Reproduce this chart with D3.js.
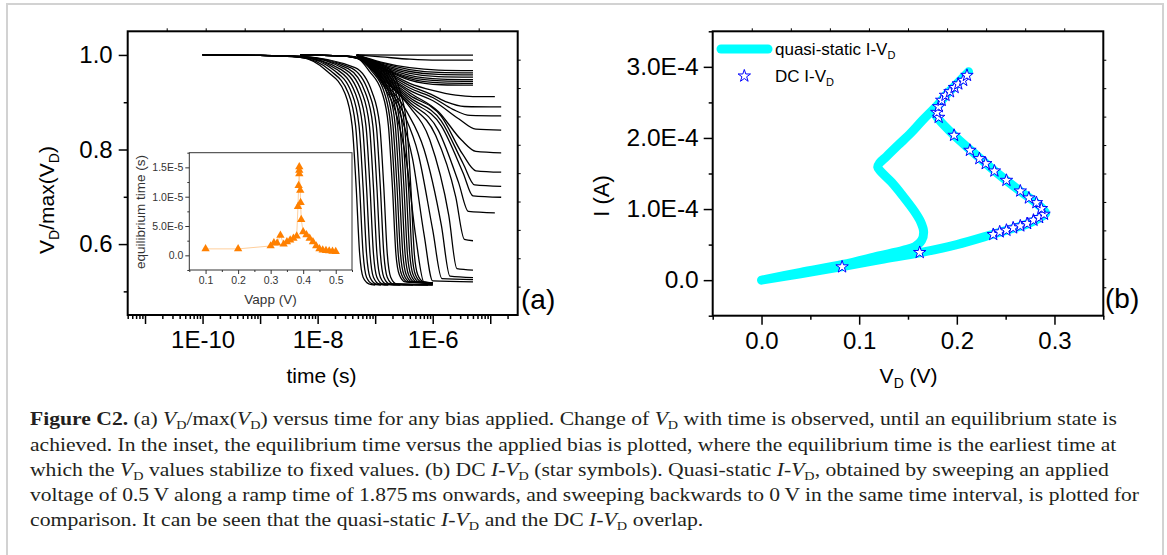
<!DOCTYPE html>
<html>
<head>
<meta charset="utf-8">
<script src="https://cdn.jsdelivr.net/npm/d3@7"></script>
<style>
  body { margin: 0; background: #fff; }
  svg { display: block; }
</style>
</head>
<body>
<script>
// ================= DATA: panel (a) ===================
// every curve is a list of [log10(time / s), VD/max(VD)]
// curves that start at 1E-10 s
const curvesFrom1e10 = [
  [[-10,1],[-9,.999],[-8.3,.995],[-7.83,.965],[-7.53,.92],[-7.4,.85],[-7.33,.72],[-7.27,.58],[-7.21,.53],[-7.11,.516],[-7.0,.513]],
  [[-10,1],[-9,.999],[-8.3,.995],[-7.77,.966],[-7.47,.92],[-7.34,.85],[-7.27,.72],[-7.21,.58],[-7.15,.53],[-7.05,.516],[-6.9,.513]],
  [[-10,1],[-9,.999],[-8.3,.996],[-7.71,.967],[-7.41,.92],[-7.28,.85],[-7.21,.72],[-7.15,.58],[-7.09,.53],[-6.99,.516],[-6.77,.513]],
  [[-10,1],[-9,.999],[-8.3,.996],[-7.65,.968],[-7.35,.92],[-7.22,.85],[-7.15,.72],[-7.09,.58],[-7.03,.53],[-6.93,.516],[-6.56,.513]],
  [[-10,1],[-9,.999],[-8.3,.996],[-7.59,.969],[-7.29,.92],[-7.16,.85],[-7.09,.72],[-7.03,.58],[-6.97,.53],[-6.87,.516],[-6.34,.513]],
  [[-10,1],[-9,.999],[-8.3,.997],[-7.53,.97],[-7.23,.92],[-7.1,.85],[-7.03,.72],[-6.97,.58],[-6.91,.53],[-6.81,.516],[-6.08,.513]],
  [[-10,1],[-9,.999],[-8.3,.997],[-7.47,.971],[-7.17,.92],[-7.04,.85],[-6.97,.72],[-6.91,.58],[-6.85,.53],[-6.75,.516],[-6.0,.514]],
  [[-10,1],[-9,.999],[-8.3,.997],[-7.41,.972],[-7.11,.92],[-6.98,.85],[-6.91,.72],[-6.85,.58],[-6.79,.53],[-6.69,.516],[-6.0,.514]],
  [[-10,1],[-9,.999],[-8.3,.997],[-7.35,.973],[-7.05,.92],[-6.92,.85],[-6.85,.72],[-6.79,.58],[-6.73,.53],[-6.63,.516],[-6.0,.514]]
];
// curves that start at 5E-9 s
const curvesFrom5e9 = [
  [[-8.3,1],[-7.6,.998],[-7.3,.992],[-7.1,.965],[-6.88,.92],[-6.77,.85],[-6.7,.72],[-6.64,.58],[-6.58,.535],[-6.48,.52],[-6.0,.517]],
  [[-8.3,1],[-7.6,.998],[-7.3,.992],[-7.06,.966],[-6.84,.92],[-6.73,.85],[-6.66,.72],[-6.6,.58],[-6.54,.535],[-6.44,.52],[-6.0,.517]],
  [[-8.3,1],[-7.6,.998],[-7.3,.993],[-7.02,.967],[-6.8,.92],[-6.69,.85],[-6.62,.72],[-6.56,.58],[-6.5,.535],[-6.4,.52],[-6.0,.517]],
  [[-8.3,1],[-7.6,.998],[-7.3,.993],[-6.98,.968],[-6.76,.92],[-6.65,.85],[-6.58,.72],[-6.52,.58],[-6.46,.535],[-6.36,.52],[-6.0,.518]],
  [[-8.3,1],[-7.6,.998],[-7.3,.994],[-6.94,.969],[-6.72,.92],[-6.61,.85],[-6.54,.72],[-6.48,.58],[-6.42,.535],[-6.32,.52],[-6.0,.518]],
  [[-8.3,1],[-7.6,.998],[-7.3,.994],[-6.9,.97],[-6.68,.92],[-6.57,.85],[-6.5,.72],[-6.44,.58],[-6.38,.535],[-6.28,.52],[-6.0,.518]],
  [[-8.3,1],[-7.6,.998],[-7.3,.994],[-6.86,.971],[-6.64,.92],[-6.53,.85],[-6.46,.72],[-6.4,.58],[-6.34,.535],[-6.24,.52],[-6.0,.518]],
  [[-8.3,1],[-7.6,.998],[-7.3,.995],[-6.82,.972],[-6.6,.92],[-6.49,.85],[-6.42,.72],[-6.36,.58],[-6.3,.535],[-6.2,.52],[-6.0,.518]],
  [[-8.3,1],[-7.6,.998],[-7.3,.995],[-6.78,.973],[-6.56,.92],[-6.45,.85],[-6.38,.72],[-6.32,.58],[-6.26,.535],[-6.16,.52],[-6.0,.518]]
];
// curves that start at 5E-8 s (higher biases)
const curvesFrom5e8 = [
  [[-7.32,1],[-6.5,.9995],[-5.3,.9995]],
  [[-7.32,1],[-6.9,.996],[-6.4,.991],[-5.9,.989],[-5.3,.989]],
  [[-7.32,1],[-6.9,.985],[-6.4,.973],[-5.9,.968],[-5.3,.967]],
  [[-7.32,1],[-6.9,.983],[-6.4,.969],[-5.9,.963],[-5.3,.962]],
  [[-7.32,1],[-6.9,.981],[-6.4,.965],[-5.9,.959],[-5.3,.958]],
  [[-7.32,1],[-6.9,.979],[-6.4,.961],[-5.9,.954],[-5.3,.953]],
  [[-7.32,1],[-6.9,.977],[-6.4,.957],[-5.85,.949],[-5.3,.948]],
  [[-7.32,1],[-6.9,.975],[-6.4,.953],[-5.85,.945],[-5.3,.944]],
  [[-7.32,1],[-6.9,.974],[-6.4,.95],[-5.85,.941],[-5.3,.94]],
  [[-7.32,1],[-6.9,.973],[-6.4,.947],[-5.85,.937],[-5.3,.936]],
  [[-7.32,1],[-6.9,.972],[-6.4,.94],[-6.0,.925],[-5.6,.915],[-5.3,.912],[-4.92,.912]],
  [[-7.32,1],[-6.9,.97],[-6.4,.935],[-6.0,.915],[-5.75,.9],[-5.45,.891],[-4.81,.89]],
  [[-7.32,1],[-6.9,.968],[-6.4,.93],[-6.0,.91],[-5.65,.885],[-5.35,.872],[-4.81,.871]],
  [[-7.32,1],[-6.9,.966],[-6.4,.925],[-5.95,.9],[-5.55,.865],[-5.25,.843],[-4.81,.841]],
  [[-7.32,1],[-6.9,.964],[-6.4,.92],[-5.9,.88],[-5.5,.82],[-5.25,.796],[-4.81,.793]],
  [[-7.32,1],[-6.9,.962],[-6.4,.915],[-5.85,.87],[-5.48,.79],[-5.25,.755],[-4.81,.752]],
  [[-7.32,1],[-6.9,.96],[-6.4,.91],[-5.85,.86],[-5.47,.77],[-5.27,.725],[-4.81,.722]],
  [[-7.32,1],[-6.9,.958],[-6.4,.905],[-5.85,.85],[-5.47,.75],[-5.3,.702],[-4.81,.699]],
  [[-7.32,1],[-6.9,.956],[-6.4,.9],[-5.9,.84],[-5.55,.73],[-5.38,.669],[-4.92,.666]],
  [[-7.32,1],[-6.9,.954],[-6.4,.895],[-5.95,.83],[-5.6,.7],[-5.45,.61],[-5.3,.607]],
  [[-7.32,1],[-6.9,.952],[-6.4,.89],[-6.05,.82],[-5.72,.66],[-5.58,.548],[-5.3,.545]],
  [[-7.32,1],[-6.9,.95],[-6.45,.88],[-6.15,.8],[-5.85,.64],[-5.7,.532],[-5.3,.529]],
  [[-7.32,1],[-6.9,.948],[-6.5,.875],[-6.25,.79],[-6.0,.63],[-5.84,.527],[-5.3,.525]],
  [[-7.32,1],[-6.9,.946],[-6.55,.87],[-6.35,.78],[-6.15,.62],[-6.0,.522],[-5.3,.52]],
  [[-7.32,1],[-6.9,.944],[-6.6,.86],[-6.45,.77],[-6.3,.62],[-6.15,.519],[-6.0,.517]]
];

const timeLabelTicks = [1e-10, 1e-8, 1e-6];
const timeLabels = ["1E-10", "1E-8", "1E-6"];
const ratioTicks = [0.6, 0.8, 1.0];
const ratioMinor = [0.5, 0.7, 0.9];

// inset: equilibrium time (in 1E-6 s) vs applied bias (V)
const vapp = [0.10,0.20,0.30,0.31,0.32,0.33,0.34,0.35,0.36,0.37,0.38,0.384,0.386,0.388,0.388,0.388,0.391,0.392,0.394,0.40,0.41,0.42,0.43,0.44,0.45,0.46,0.47,0.48,0.49,0.50];
const eqTime = [1.1,1.1,1.6,2.15,2.1,3.4,1.9,2.3,2.6,2.9,3.3,8.3,11.9,15.1,14.5,13.9,11.1,9.0,6.1,4.0,3.5,2.9,2.3,1.6,1.1,0.9,0.8,0.75,0.7,0.65];
const insetYTicks = [0, 5, 10, 15];
const insetYLabels = ["0.0", "5.0E-6", "1.0E-5", "1.5E-5"];
const insetXTicks = [0.1, 0.2, 0.3, 0.4, 0.5];

// ================= DATA: panel (b) ===================
// quasi-static sweep, forward then backward (VD in V, I in 1E-4 A)
const qsV = [0,0.04,0.083,0.122,0.162,0.2,0.237,0.258,0.272,0.284,0.291,0.288,0.28,0.265,0.24,0.214,0.197,0.181,0.178,0.182,0.19,0.2,0.212,
             0.2,0.19,0.18,0.165,0.153,0.14,0.128,0.121,0.119,0.122,0.133,0.145,0.156,0.163,0.166,0.164,0.157,0.145,0.12,0.083,0.04,0];
const qsI = [0,0.09,0.19,0.29,0.385,0.5,0.645,0.73,0.79,0.87,0.94,1.0,1.1,1.25,1.52,1.83,2.04,2.27,2.35,2.47,2.62,2.76,2.93,
             2.76,2.62,2.46,2.25,2.07,1.9,1.74,1.65,1.59,1.53,1.38,1.18,0.98,0.82,0.68,0.56,0.47,0.42,0.34,0.22,0.11,0];
// DC points
const dcV = [0.0825,0.162,0.2373,0.2439,0.2508,0.2577,0.265,0.272,0.2785,0.2843,0.2893,0.2866,0.2815,0.2738,0.265,0.2508,0.2385,0.2296,0.2231,0.2134,0.1972,0.1814,0.1795,0.1814,0.1845,0.1884,0.193,0.1977,0.2015,0.2065,0.2104];
const dcI = [0.187,0.389,0.642,0.679,0.702,0.735,0.763,0.796,0.843,0.88,0.927,1.007,1.09,1.156,1.254,1.404,1.535,1.639,1.709,1.826,2.037,2.29,2.36,2.44,2.53,2.6,2.65,2.71,2.76,2.81,2.88];
const currentTicks = [0, 1, 2, 3];
const currentLabels = ["0.0", "1.0E-4", "2.0E-4", "3.0E-4"];
const vdTicks = [0, 0.1, 0.2, 0.3];

// caption, one array per printed line: [text, style]
const captionLines = [
  [["Figure C2.","b"],[" (a) ",""],["V","i"],["D","s"],["/max(",""],["V","i"],["D","s"],[") versus time for any bias applied. Change of ",""],["V","i"],["D","s"],[" with time is observed, until an equilibrium state is",""]],
  [["achieved. In the inset, the equilibrium time versus the applied bias is plotted, where the equilibrium time is the earliest time at",""]],
  [["which the ",""],["V","i"],["D","s"],[" values stabilize to fixed values. (b) DC ",""],["I","i"],["-",""],["V","i"],["D","s"],[" (star symbols). Quasi-static ",""],["I","i"],["-",""],["V","i"],["D","s"],[", obtained by sweeping an applied",""]],
  [["voltage of 0.5\u2009V along a ramp time of 1.875\u2009ms onwards, and sweeping backwards to 0\u2009V in the same time interval, is plotted for",""]],
  [["comparison. It can be seen that the quasi-static ",""],["I","i"],["-",""],["V","i"],["D","s"],[" and the DC ",""],["I","i"],["-",""],["V","i"],["D","s"],[" overlap.",""]]
];
const captionEnds = [1117, 1117, 1109, 1140, 704];

// ================== LAYOUT ===========================
const SANS = "'Liberation Sans', Arial, sans-serif";
const SERIF = "'Liberation Serif', 'Times New Roman', serif";

const svg = d3.select("body").append("svg")
  .attr("width", 1167).attr("height", 555)
  .attr("font-family", SANS);

svg.append("rect").attr("width", 1167).attr("height", 555).attr("fill", "#fff");
svg.append("rect").attr("x", 7).attr("y", 4).attr("width", 1156).attr("height", 580)
  .attr("fill", "none").attr("stroke", "#d2d2d2").attr("stroke-width", 2);

// text with subscripts: parts are strings or {sub: "D"}
function richText(g, parts, size, subSize, subDy) {
  const t = g.append("text").attr("font-size", size).attr("fill", "#000");
  let reset = 0;
  parts.forEach(p => {
    if (typeof p === "string") {
      t.append("tspan").attr("dy", reset).text(p);
      reset = 0;
    } else {
      t.append("tspan").attr("font-size", subSize).attr("dy", subDy).text(p.sub);
      reset = -subDy;
    }
  });
  return t;
}

function styleAxis(g, fontSize, color) {
  g.select(".domain").remove();
  g.selectAll(".tick line").attr("stroke", color).attr("stroke-width", 1.5);
  g.selectAll(".tick text").attr("fill", color).attr("font-size", fontSize).attr("font-family", SANS);
}

// small unlabelled ticks on the top and right edges (ten equal steps)
function mirrorTicks(g, x0, x1, y0, y1) {
  const tx = d3.scaleLinear().domain([0, 10]).range([x0, x1]);
  const ty = d3.scaleLinear().domain([0, 10]).range([y1, y0]);
  g.append("g").attr("transform", `translate(0,${y0})`)
    .call(d3.axisTop(tx).tickValues(d3.range(1, 10)).tickSize(3).tickFormat(""))
    .call(a => styleAxis(a, 10, "#000"))
    .call(a => a.selectAll("line").attr("stroke-width", 1));
  g.append("g").attr("transform", `translate(${x1},0)`)
    .call(d3.axisRight(ty).tickValues(d3.range(1, 10)).tickSize(3).tickFormat(""))
    .call(a => styleAxis(a, 10, "#000"))
    .call(a => a.selectAll("line").attr("stroke-width", 1));
}

// ================== PANEL (a) ========================
const xA = d3.scaleLog().domain([5e-12, 3e-5]).range([127.7, 517.7]);
const yA = d3.scaleLinear().domain([0.45, 1.05]).range([315, 31.3]);

const gA = svg.append("g");

const decades = d3.range(-11, -4).map(n => Math.pow(10, n));
const logMinor = [];
d3.range(-12, -4).forEach(n => d3.range(2, 10).forEach(k => {
  const v = k * Math.pow(10, n);
  if (v >= 5e-12 && v <= 3e-5) logMinor.push(v);
}));

gA.append("g").attr("transform", "translate(0,315)")
  .call(d3.axisBottom(xA).tickValues(logMinor).tickSize(4).tickFormat(""))
  .call(g => styleAxis(g, 24, "#000"));
gA.append("g").attr("transform", "translate(0,315)")
  .call(d3.axisBottom(xA).tickValues(decades).tickSize(9).tickPadding(7)
    .tickFormat(d => { const i = timeLabelTicks.findIndex(t => Math.abs(Math.log10(t) - Math.log10(d)) < 1e-6); return i < 0 ? "" : timeLabels[i]; }))
  .call(g => styleAxis(g, 24, "#000"));

gA.append("g").attr("transform", "translate(127.7,0)")
  .call(d3.axisLeft(yA).tickValues(ratioMinor).tickSize(4).tickFormat(""))
  .call(g => styleAxis(g, 24, "#000"));
gA.append("g").attr("transform", "translate(127.7,0)")
  .call(d3.axisLeft(yA).tickValues(ratioTicks).tickSize(9).tickPadding(6).tickFormat(d3.format(".1f")))
  .call(g => styleAxis(g, 24, "#000"));
mirrorTicks(gA, 127.7, 517.7, 31.3, 315);

const lineA = d3.line()
  .x(d => xA(Math.pow(10, d[0])))
  .y(d => yA(d[1]))
  .curve(d3.curveMonotoneX);

const curveGroup = gA.append("g").attr("fill", "none").attr("stroke", "#000").attr("stroke-width", 1.3);
[curvesFrom1e10, curvesFrom5e9, curvesFrom5e8].forEach(set => {
  set.forEach(c => curveGroup.append("path").attr("d", lineA(c)));
});

gA.append("rect").attr("x", 127.7).attr("y", 31.3).attr("width", 390).attr("height", 283.7)
  .attr("fill", "none").attr("stroke", "#000").attr("stroke-width", 2);

// axis titles
richText(gA, ["time (s)"], 21, 14, 5)
  .attr("x", 321.5).attr("y", 383).attr("text-anchor", "middle");
richText(gA.append("g").attr("transform", "translate(54,200) rotate(-90)"),
  ["V", {sub: "D"}, "/max(V", {sub: "D"}, ")"], 21, 14, 5)
  .attr("text-anchor", "middle");
gA.append("text").attr("x", 521).attr("y", 309).attr("font-size", 28).text("(a)");

// ---------- inset ----------
const xI = d3.scaleLinear().domain([0.05, 0.55]).range([189.3, 352]);
const yI = d3.scaleLinear().domain([-2.5, 17.5]).range([270, 152.7]);
const gI = svg.append("g");

gI.append("rect").attr("x", 189.3).attr("y", 152.7).attr("width", 162.7).attr("height", 117.3)
  .attr("fill", "#fff").attr("stroke", "none");

gI.append("g").attr("transform", "translate(0,270)")
  .call(d3.axisBottom(xI).tickValues([0.05,0.15,0.25,0.35,0.45,0.55]).tickSize(2).tickFormat(""))
  .call(g => styleAxis(g, 10.5, "#333"));
gI.append("g").attr("transform", "translate(0,270)")
  .call(d3.axisBottom(xI).tickValues(insetXTicks).tickSize(4).tickPadding(3).tickFormat(d3.format(".1f")))
  .call(g => styleAxis(g, 10.5, "#333"));
gI.append("g").attr("transform", "translate(189.3,0)")
  .call(d3.axisLeft(yI).tickValues([-2.5, 2.5, 7.5, 12.5, 17.5]).tickSize(2).tickFormat(""))
  .call(g => styleAxis(g, 10.5, "#333"));
gI.append("g").attr("transform", "translate(189.3,0)")
  .call(d3.axisLeft(yI).tickValues(insetYTicks).tickSize(4).tickPadding(2)
    .tickFormat((d, i) => insetYLabels[i]))
  .call(g => styleAxis(g, 10.5, "#333"));
gI.selectAll(".tick line").attr("stroke-width", 1);

const insetPts = vapp.map((v, i) => [v, eqTime[i]]);
gI.append("path")
  .attr("d", d3.line().x(d => xI(d[0])).y(d => yI(d[1]))(insetPts))
  .attr("fill", "none").attr("stroke", "#ffcf9c").attr("stroke-width", 1);
gI.selectAll("path.tri").data(insetPts).join("path")
  .attr("class", "tri")
  .attr("transform", d => `translate(${xI(d[0])},${yI(d[1])})`)
  .attr("d", d3.symbol(d3.symbolTriangle, 30))
  .attr("fill", "#ff8000");

gI.append("rect").attr("x", 189.3).attr("y", 152.7).attr("width", 162.7).attr("height", 117.3)
  .attr("fill", "none").attr("stroke", "#333").attr("stroke-width", 1);

gI.append("text").attr("transform", "translate(145,212) rotate(-90)")
  .attr("text-anchor", "middle").attr("font-size", 13.5).attr("fill", "#333")
  .text("equilibrium time (s)");
gI.append("text").attr("x", 270.5).attr("y", 304)
  .attr("text-anchor", "middle").attr("font-size", 13.5).attr("fill", "#333")
  .text("Vapp (V)");

// ================== PANEL (b) ========================
const xB = d3.scaleLinear().domain([-0.05, 0.35]).range([712.7, 1103.3]);
const yB = d3.scaleLinear().domain([-0.5, 3.5]).range([315.7, 31.3]);
const gB = svg.append("g");

gB.append("g").attr("transform", "translate(0,315.7)")
  .call(d3.axisBottom(xB).tickValues([-0.05, 0.05, 0.15, 0.25, 0.35]).tickSize(4).tickFormat(""))
  .call(g => styleAxis(g, 24, "#000"));
gB.append("g").attr("transform", "translate(0,315.7)")
  .call(d3.axisBottom(xB).tickValues(vdTicks).tickSize(9).tickPadding(7).tickFormat(d3.format(".1f")))
  .call(g => styleAxis(g, 24, "#000"));
gB.append("g").attr("transform", "translate(712.7,0)")
  .call(d3.axisLeft(yB).tickValues([-0.5, 0.5, 1.5, 2.5, 3.5]).tickSize(4).tickFormat(""))
  .call(g => styleAxis(g, 24.5, "#000"));
gB.append("g").attr("transform", "translate(712.7,0)")
  .call(d3.axisLeft(yB).tickValues(currentTicks).tickSize(9).tickPadding(5)
    .tickFormat((d, i) => currentLabels[i]))
  .call(g => styleAxis(g, 24.5, "#000"));
mirrorTicks(gB, 712.7, 1103.3, 31.3, 315.7);

const qsPts = qsV.map((v, i) => [v, qsI[i]]);
gB.append("path")
  .attr("d", d3.line().x(d => xB(d[0])).y(d => yB(d[1])).curve(d3.curveCatmullRom.alpha(0.5))(qsPts))
  .attr("fill", "none").attr("stroke", "#00ffff").attr("stroke-width", 9)
  .attr("stroke-linecap", "round").attr("stroke-linejoin", "round");

const star = d3.symbol(d3.symbolStar, 48);
gB.selectAll("path.star").data(dcV.map((v, i) => [v, dcI[i]])).join("path")
  .attr("class", "star")
  .attr("transform", d => `translate(${xB(d[0])},${yB(d[1])})`)
  .attr("d", star)
  .attr("fill", "#fff").attr("stroke", "#0000ff").attr("stroke-width", 1);

gB.append("rect").attr("x", 712.7).attr("y", 31.3).attr("width", 390.6).attr("height", 284.4)
  .attr("fill", "none").attr("stroke", "#000").attr("stroke-width", 2);

// legend
gB.append("line").attr("x1", 721).attr("x2", 768).attr("y1", 49).attr("y2", 49)
  .attr("stroke", "#00ffff").attr("stroke-width", 9).attr("stroke-linecap", "round");
richText(gB, ["quasi-static I-V", {sub: "D"}], 17, 11, 4).attr("x", 775).attr("y", 55);
gB.append("path").attr("transform", "translate(744.3,76)").attr("d", star)
  .attr("fill", "#fff").attr("stroke", "#0000ff").attr("stroke-width", 1);
richText(gB, ["DC I-V", {sub: "D"}], 17, 11, 4).attr("x", 775).attr("y", 82);

// axis titles
richText(gB, ["V", {sub: "D"}, " (V)"], 21, 14, 5)
  .attr("x", 908.6).attr("y", 383).attr("text-anchor", "middle");
gB.append("text").attr("transform", "translate(609,196) rotate(-90)")
  .attr("text-anchor", "middle").attr("font-size", 22).text("I (A)");
gB.append("text").attr("x", 1105).attr("y", 308).attr("font-size", 28).text("(b)");

// ================== CAPTION ==========================
const capBase = [425, 450.5, 476, 501, 526];
const capG = svg.append("g").attr("font-family", SERIF).attr("fill", "#231f20");
captionLines.forEach((parts, li) => {
  const t = capG.append("text").attr("font-size", 19);
  let reset = 0;
  parts.forEach(([s, st]) => {
    const sp = t.append("tspan").text(s);
    if (st === "s") {
      sp.attr("font-size", 12.5).attr("dy", 4);
      reset = -4;
    } else {
      sp.attr("dy", reset);
      reset = 0;
      if (st === "b") sp.attr("font-weight", "bold");
      if (st === "i") sp.attr("font-style", "italic");
    }
  });
  const len = t.node().getComputedTextLength();
  const k = (captionEnds[li] - 30) / len;
  t.attr("transform", `translate(30,${capBase[li]}) scale(${k},1)`);
});
</script>
</body>
</html>
